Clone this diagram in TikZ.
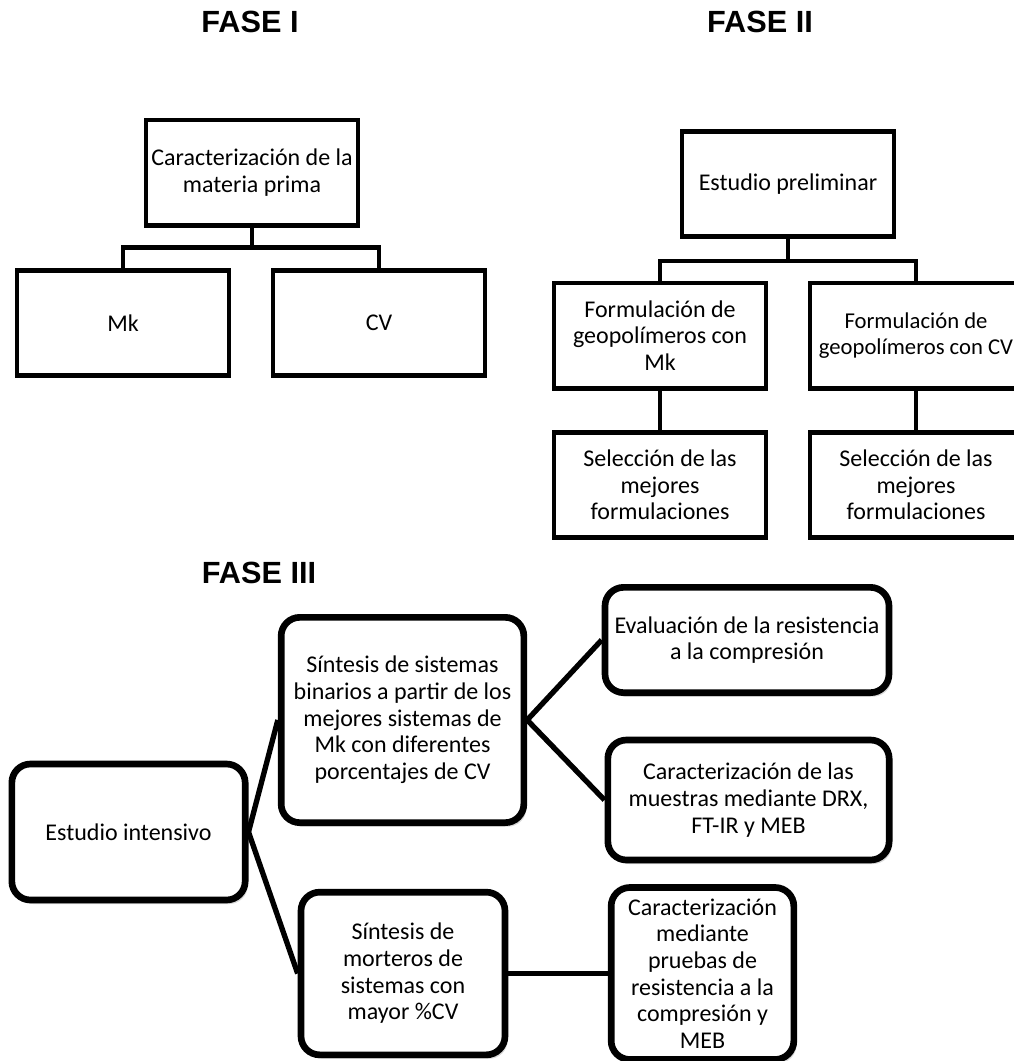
\documentclass[tikz,border=0pt]{standalone}
\usepackage{fontspec}
\setmainfont{Carlito}
\newfontfamily\arialfont{Liberation Sans}
\usetikzlibrary{shadows}

\begin{document}
\begin{tikzpicture}[x=0.75pt, y=-0.75pt,
    every node/.style={font=\fontsize{18}{20}\selectfont, align=center, inner sep=1pt},
    fase/.style={font=\arialfont\bfseries\fontsize{23}{26}\selectfont},
    caja/.style={draw, line width=3.5pt, minimum width=159pt, minimum height=79pt},
    cajar/.style={draw, fill=white, line width=5pt, rounded corners=14pt,
        drop shadow={shadow xshift=2pt, shadow yshift=-3pt, opacity=0.3}},
    rama/.style={line width=3.5pt},
    ramar/.style={line width=4pt}]

\useasboundingbox (0,0) rectangle (1014,1061);
\clip (0,0) rectangle (1014,1061);

% Titles
\node[fase] (f1) at (250,22) {FASE I};
\node[fase] (f2) at (760,22) {FASE II};
\node[fase] (f3) at (259,573) {FASE III};

% Fase I
\node[caja] (car) at (252,172.5) {Caracterización de la\\materia prima};
\node[caja] (mk) at (123,323) {Mk};
\node[caja] (cv) at (379,323) {CV};

\draw[rama] (car.south) -- ++(0,20) coordinate (c1);
\draw[rama] (mk.north) |- (c1) -| (cv.north);

% Fase II
\node[caja] (pre) at (788,184) {Estudio preliminar};
\node[caja] (fmk) at (660,335.5) {Formulación de\\geopolímeros con\\Mk};
\node[caja, font=\fontsize{17}{20}\selectfont] (fcv) at (916,335.5) {Formulación de\\geopolímeros con CV};
\node[caja] (smk) at (660,485) {Selección de las\\mejores\\formulaciones};
\node[caja] (scv) at (916,485) {Selección de las\\mejores\\formulaciones};

\draw[rama] (pre.south) -- ++(0,22) coordinate (c2);
\draw[rama] (fmk.north) |- (c2) -| (fcv.north);
\draw[rama] (fmk) -- (smk);
\draw[rama] (fcv) -- (scv);

% Fase III
\node[cajar, minimum width=175pt, minimum height=102pt] (int) at (128.5,832) {Estudio intensivo};
\node[cajar, minimum width=182pt, minimum height=154pt] (bin) at (402.5,720)
    {Síntesis de sistemas\\binarios a partir de los\\mejores sistemas de\\Mk con diferentes\\porcentajes de CV};
\node[cajar, minimum width=153pt, minimum height=122pt] (mor) at (403,973.5)
    {Síntesis de\\morteros de\\sistemas con\\mayor \%CV};
\node[cajar, minimum width=213pt, minimum height=79pt] (ev) at (747,640)
    {Evaluación de la resistencia\\a la compresión};
\node[cajar, minimum width=211pt, minimum height=90pt] (mue) at (748.5,800)
    {Caracterización de las\\muestras mediante DRX,\\FT-IR y MEB};
\node[cajar, minimum width=137pt, minimum height=129pt] (med) at (702.5,973.5)
    {Caracterización\\mediante\\pruebas de\\resistencia a la\\compresión y\\MEB};

\draw[ramar] (int.east) -- (bin.west);
\draw[ramar] (int.east) -- (mor.west);
\draw[ramar] (bin.east) -- (ev.west);
\draw[ramar] (bin.east) -- (mue.west);
\draw[ramar] (mor.east) -- (med.west);

\end{tikzpicture}
\end{document}
